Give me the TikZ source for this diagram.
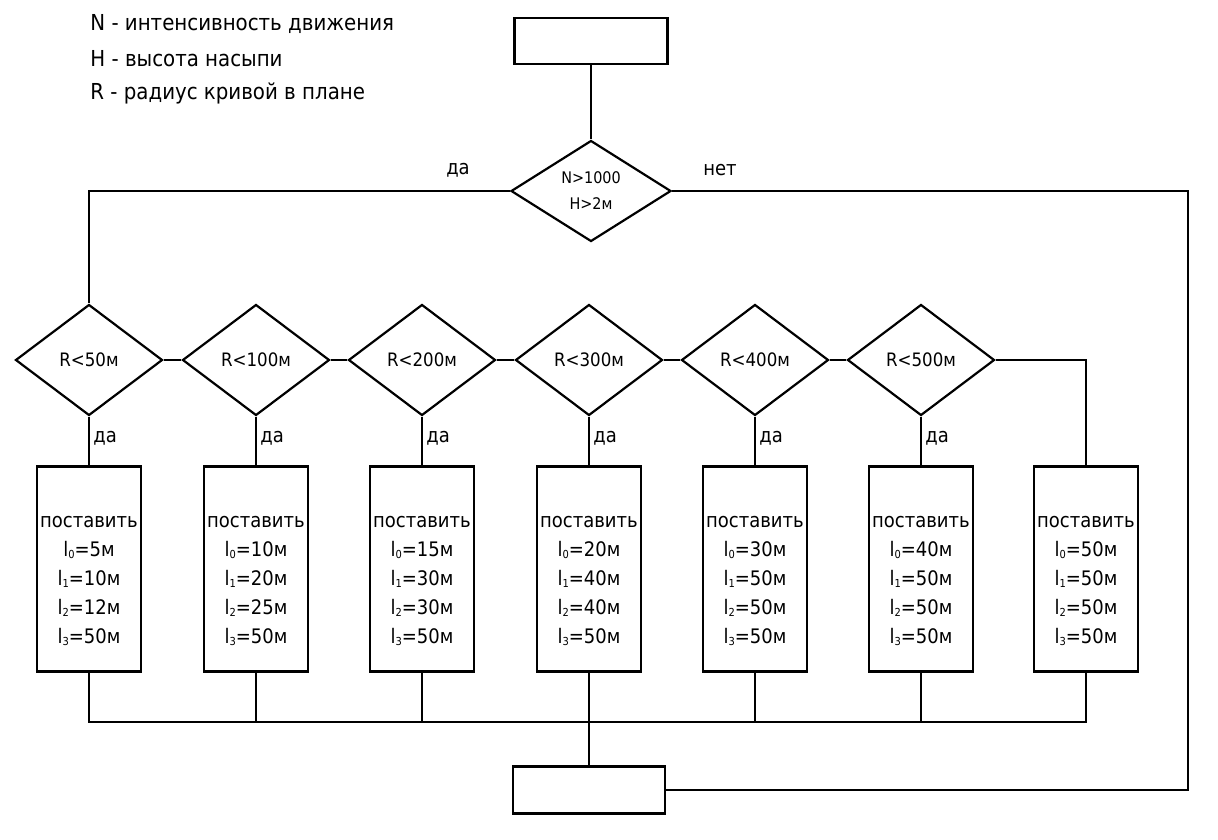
\documentclass[tikz,border=0pt]{standalone}
\usepackage{fontspec}
\setmainfont{DejaVu Sans Condensed}
\usetikzlibrary{shapes.geometric,positioning}
\tikzset{
  cond/.style={draw, diamond, inner sep=0pt, minimum width=147pt,
    minimum height=111pt, font=\fontsize{18.5}{20}\selectfont},
  actbox/.style={draw, rectangle, minimum width=103pt, minimum height=205pt,
    align=center, font=\fontsize{20}{29}\selectfont},
  termbox/.style={draw, rectangle, minimum width=153pt, minimum height=46pt},
  yeslbl/.style={font=\fontsize{20}{22}\selectfont},
  legend/.style={anchor=west, font=\fontsize{22}{24}\selectfont}
}
\newcommand\lidx[1]{l{\fontsize{11}{11}\selectfont\raisebox{-2pt}{#1}}}

\begin{document}
\begin{tikzpicture}[x=1pt, y=-1pt, line width=2.2pt]
\useasboundingbox (0,0) rectangle (1218,839);

% legend
\node[legend] (lgN) at (86,24) {N - интенсивность движения};
\node[legend] (lgH) at (86,59) {H - высота насыпи};
\node[legend] (lgR) at (86,93) {R - радиус кривой в плане};

% start, first test, end
\node[termbox] (start) at (591,41) {};
\node[cond, minimum width=160pt, minimum height=101pt, align=center,
  font=\fontsize{16}{26}\selectfont] (main) at (591,191) {N>1000\\H>2м};
\node[termbox, minimum width=152pt, minimum height=47pt] (end) at (589,790) {};

% radius tests
\foreach \r/\x [count=\i] in {50/89,100/256,200/422,300/589,400/755,500/921}
  \node[cond] (c\i) at (\x,360) {R<\r м};

% boxes
\foreach \x/\a/\b/\c/\d [count=\i] in {89/5/10/12/50, 256/10/20/25/50,
    422/15/30/30/50, 589/20/40/40/50, 755/30/50/50/50, 921/40/50/50/50,
    1086/50/50/50/50}
  \node[actbox] (b\i) at (\x,569)
    {\rule{0pt}{36pt}поставить\\\lidx0=\a м\\\lidx1=\b м\\\lidx2=\c м\\\lidx3=\d м};

% connectors
\coordinate (bus) at (0,722);
\coordinate (rside) at (1188,0);
\draw (start) -- (main);
\draw (main.west) -| (c1.north);
\draw (main.east) -- (main.east -| rside) |- (end.east);
\node[yeslbl] (mainyes) at (458,170) {да};
\node[yeslbl] (mainno) at (720,170) {нет};

\foreach \i [evaluate=\i as \j using int(\i+1)] in {1,...,5}
  \draw (c\i.east) -- (c\j.west);
\draw (c6.east) -| (b7.north);
\foreach \i in {1,...,6}
  \draw (c\i.south) -- node[yeslbl, right=0pt, pos=0.45] {да} (b\i.north);

\draw (b1.south) -- (b1.south |- bus) -- (b7.south |- bus) -- (b7.south);
\foreach \i in {2,...,6}
  \draw (b\i.south) -- (b\i.south |- bus);
\draw (end.north |- bus) -- (end.north);
\end{tikzpicture}
\end{document}
